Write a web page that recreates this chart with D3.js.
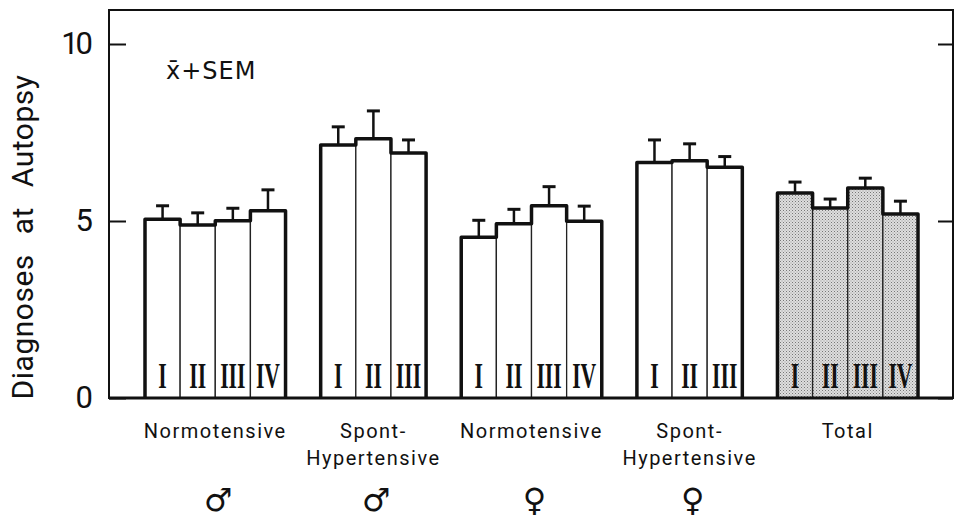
<!DOCTYPE html>
<head>
  <meta charset="utf-8">
  <script src="https://d3js.org/d3.v7.min.js"></script>
  <style>
    body { margin: 0; background: #fff; }
    svg { width: 956px; height: 520px; display: block; }
    text { fill: #111; }
  </style>
</head>

<body>
  <svg></svg>

  <script>
    const width = 956;
    const height = 520;

    // data
    const groupLabels = [['Normotensive'], ['Spont-', 'Hypertensive'], ['Normotensive'], ['Spont-', 'Hypertensive'], ['Total']];
    const groupSex = ['\u2642', '\u2642', '\u2640', '\u2640', ''];
    const classLabels = [['I', 'II', 'III', 'IV'], ['I', 'II', 'III'], ['I', 'II', 'III', 'IV'], ['I', 'II', 'III'], ['I', 'II', 'III', 'IV']];
    const means = [
      [5.05, 4.89, 5.01, 5.29],
      [7.15, 7.32, 6.92],
      [4.54, 4.92, 5.43, 4.99],
      [6.65, 6.70, 6.52],
      [5.79, 5.37, 5.93, 5.20]
    ];
    const sems = [
      [0.38, 0.34, 0.35, 0.59],
      [0.51, 0.79, 0.37],
      [0.48, 0.41, 0.54, 0.43],
      [0.64, 0.48, 0.30],
      [0.31, 0.25, 0.28, 0.36]
    ];
    const yTicks = [0, 5, 10];

    // frame
    const frame = { left: 109, right: 953, top: 10, bottom: 398 };

    // one slot per bar, one empty slot between groups
    const slots = [];
    let s = 0;
    means.forEach((g, gi) => {
      g.forEach((m, bi) => {
        slots.push({ g: gi, b: bi, slot: s, mean: m, sem: sems[gi][bi], label: classLabels[gi][bi] });
        s += 1;
      });
      s += 1;
    });
    const nSlots = s - 1;

    const x = d3.scaleLinear().domain([0, nSlots]).range([145, 918]);
    const y = d3.scaleLinear().domain([0, 10]).range([frame.bottom, 44]);
    const bw = x(1) - x(0);

    const svg = d3.select('svg').attr('viewBox', `0 0 ${width} ${height}`);

    // stipple for the Total bars
    const pat = svg.append('defs').append('pattern')
      .attr('id', 'dots').attr('width', 3).attr('height', 3)
      .attr('patternUnits', 'userSpaceOnUse');
    pat.append('rect').attr('width', 3).attr('height', 3).attr('fill', '#dedede');
    pat.append('rect').attr('width', 1).attr('height', 1).attr('fill', '#777');
    pat.append('rect').attr('x', 1.5).attr('y', 1.5).attr('width', 1).attr('height', 1).attr('fill', '#999');

    // frame box
    svg.append('rect')
      .attr('x', frame.left).attr('y', frame.top)
      .attr('width', frame.right - frame.left).attr('height', frame.bottom - frame.top)
      .attr('fill', 'none').attr('stroke', '#111').attr('stroke-width', 2);

    // axes, ticks pointing inward
    const yAxis = svg.append('g')
      .attr('transform', `translate(${frame.left},0)`)
      .call(d3.axisLeft(y).tickValues(yTicks).tickSizeInner(-17).tickSizeOuter(0).tickPadding(19));
    yAxis.select('.domain').remove();
    yAxis.selectAll('line').attr('stroke', '#111').attr('stroke-width', 2);
    yAxis.selectAll('text')
      .attr('font-family', 'Roboto, sans-serif').attr('font-size', 31)
      .attr('letter-spacing', -3).attr('fill', '#111');

    const yAxisR = svg.append('g')
      .attr('transform', `translate(${frame.right},0)`)
      .call(d3.axisRight(y).tickValues(yTicks).tickSizeInner(-15).tickSizeOuter(0).tickFormat(''));
    yAxisR.select('.domain').remove();
    yAxisR.selectAll('line').attr('stroke', '#111').attr('stroke-width', 2);

    // bars
    svg.append('g').selectAll('rect')
      .data(slots)
      .join('rect')
      .attr('x', d => x(d.slot))
      .attr('y', d => y(d.mean))
      .attr('width', bw)
      .attr('height', d => y(0) - y(d.mean))
      .attr('fill', d => d.g === 4 ? 'url(#dots)' : '#fff')
      .attr('stroke', '#222')
      .attr('stroke-width', 1.3);

    // thick outline round each group
    const outline = means.map((g, gi) => {
      const bars = slots.filter(d => d.g === gi);
      const p = d3.path();
      p.moveTo(x(bars[0].slot), y(0));
      bars.forEach(d => {
        p.lineTo(x(d.slot), y(d.mean));
        p.lineTo(x(d.slot + 1), y(d.mean));
      });
      p.lineTo(x(bars[bars.length - 1].slot + 1), y(0));
      return p.toString();
    });
    svg.append('g').selectAll('path')
      .data(outline)
      .join('path')
      .attr('d', d => d)
      .attr('fill', 'none')
      .attr('stroke', '#111')
      .attr('stroke-width', 3.5)
      .attr('stroke-linejoin', 'round');

    // baseline
    svg.append('line')
      .attr('x1', frame.left).attr('x2', frame.right)
      .attr('y1', y(0)).attr('y2', y(0))
      .attr('stroke', '#111').attr('stroke-width', 3);

    // error bars (mean + SEM)
    const err = svg.append('g').attr('stroke', '#111');
    err.selectAll('line.stem')
      .data(slots)
      .join('line')
      .attr('class', 'stem')
      .attr('x1', d => x(d.slot + 0.5)).attr('x2', d => x(d.slot + 0.5))
      .attr('y1', d => y(d.mean)).attr('y2', d => y(d.mean + d.sem))
      .attr('stroke-width', 2.5);
    err.selectAll('line.cap')
      .data(slots)
      .join('line')
      .attr('class', 'cap')
      .attr('x1', d => x(d.slot + 0.5) - 6.5).attr('x2', d => x(d.slot + 0.5) + 6.5)
      .attr('y1', d => y(d.mean + d.sem)).attr('y2', d => y(d.mean + d.sem))
      .attr('stroke-width', 3);

    // roman numerals in the bars
    svg.append('g').selectAll('text')
      .data(slots)
      .join('text')
      .attr('transform', d => `translate(${x(d.slot + 0.5)},${y(0) - 10}) scale(0.62,1)`)
      .attr('text-anchor', 'middle')
      .attr('font-family', '"Liberation Serif", "DejaVu Serif", serif')
      .attr('font-weight', 'bold')
      .attr('font-size', 35)
      .attr('fill', '#111')
      .text(d => d.label);

    // group labels under the axis
    const groupCenters = means.map((g, gi) => {
      const bars = slots.filter(d => d.g === gi);
      return (x(bars[0].slot) + x(bars[bars.length - 1].slot + 1)) / 2;
    });
    const gl = svg.append('g').selectAll('text')
      .data(groupLabels)
      .join('text')
      .attr('x', (d, i) => groupCenters[i])
      .attr('y', 438)
      .attr('text-anchor', 'middle')
      .attr('font-family', 'Roboto, sans-serif')
      .attr('font-size', 20)
      .attr('letter-spacing', 1.5);
    gl.selectAll('tspan')
      .data(d => d)
      .join('tspan')
      .attr('x', function() { return this.parentNode.getAttribute('x'); })
      .attr('dy', (d, i) => i === 0 ? 0 : 27)
      .text(d => d);

    svg.append('g').selectAll('text')
      .data(groupSex)
      .join('text')
      .attr('x', (d, i) => groupCenters[i] + 3)
      .attr('y', 511)
      .attr('text-anchor', 'middle')
      .attr('font-family', '"DejaVu Sans", sans-serif')
      .attr('font-weight', 'bold')
      .attr('font-size', 32)
      .text(d => d);

    // y label
    svg.append('text')
      .attr('transform', `translate(33,${(frame.top + frame.bottom) / 2 + 33}) rotate(-90)`)
      .attr('text-anchor', 'middle')
      .attr('font-family', 'Roboto, sans-serif')
      .attr('font-size', 30)
      .attr('letter-spacing', 0.5)
      .attr('word-spacing', 12)
      .text('Diagnoses at Autopsy');

    // legend note
    svg.append('text')
      .attr('x', 166).attr('y', 79)
      .attr('font-family', '"DejaVu Sans", sans-serif')
      .attr('font-size', 24)
      .attr('letter-spacing', 1)
      .text('x\u0304+SEM');
  </script>
</body>
